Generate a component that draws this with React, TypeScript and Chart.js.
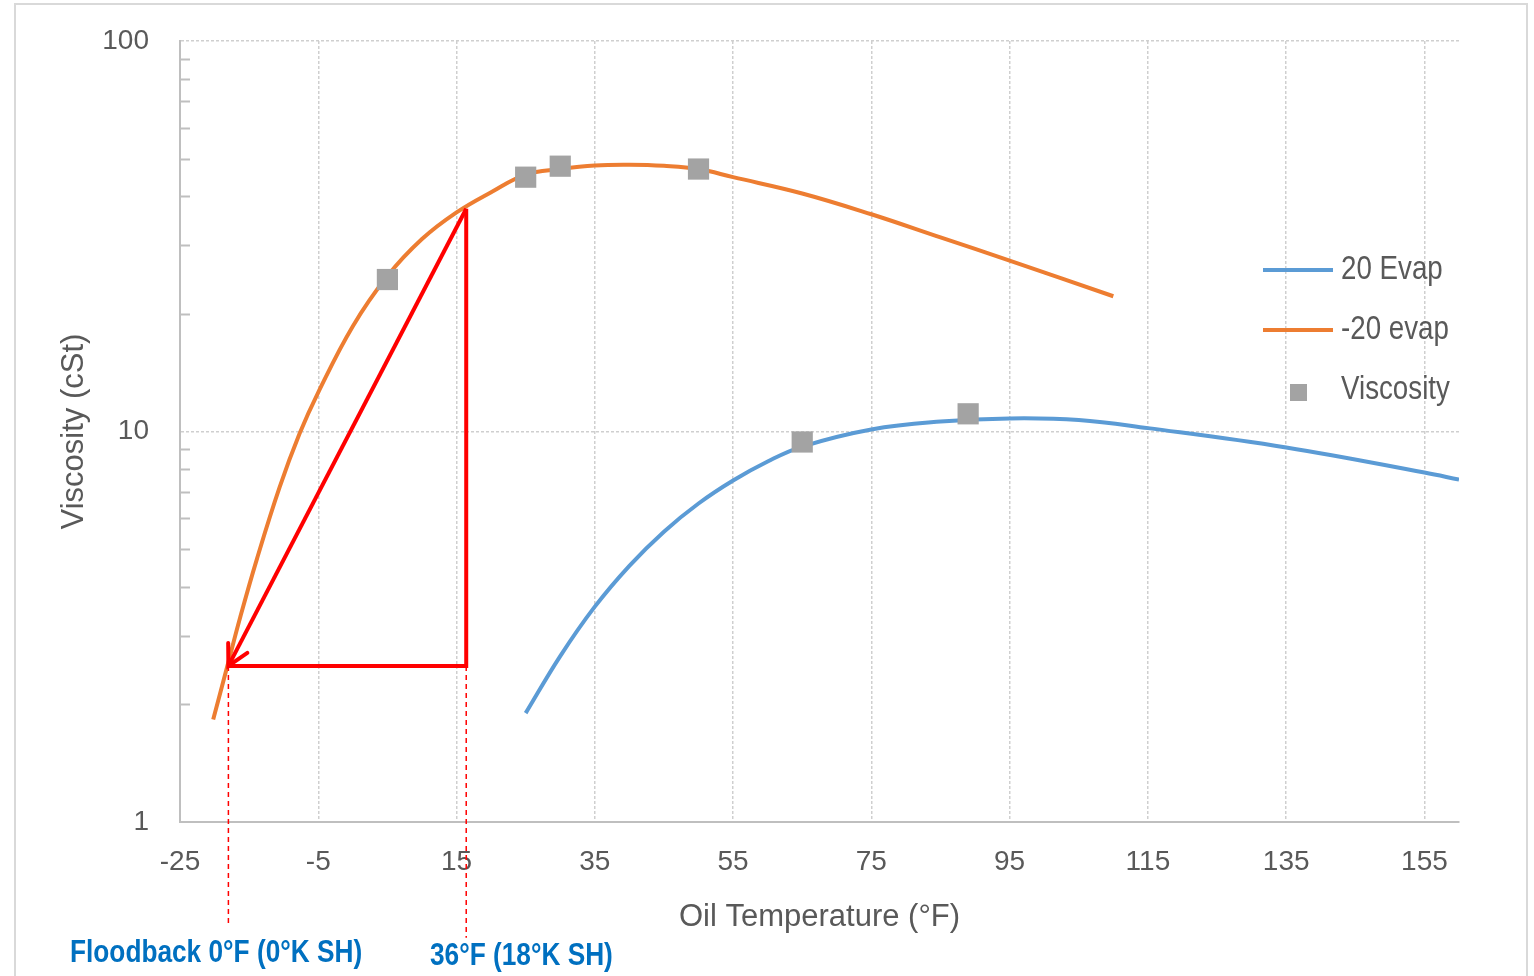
import React, { useEffect, useRef } from 'react';
import { Chart, registerables } from 'chart.js';

Chart.register(...registerables);

// ---- data ----
const evap20X = [25, 30, 35, 40, 45, 50, 55, 60, 65, 75, 85, 95, 105, 115, 135, 155, 160];
const evap20Y = [1.9, 2.66, 3.56, 4.53, 5.54, 6.54, 7.49, 8.38, 9.15, 10.12, 10.6, 10.8, 10.7, 10.2, 9.1, 7.85, 7.53];

const evapM20X = [-20.2, -18.2, -16.3, -13.9, -10.6, -7.7, -5, 0, 5, 10, 15, 20, 25, 30, 35, 40, 45, 50, 55, 65, 75, 85, 95, 110];
const evapM20Y = [1.83, 2.49, 3.34, 4.7, 7.19, 9.88, 12.6, 18.6, 25.0, 31.1, 36.4, 41.0, 45.5, 47, 48, 48.2, 47.9, 47, 44.8, 40.7, 36, 31.4, 27.4, 22.2];

const viscX = [5, 25, 30, 50, 65, 89];
const viscY = [24.5, 44.8, 47.8, 47, 9.4, 11.1];

const xTicks = [-25, -5, 15, 35, 55, 75, 95, 115, 135, 155];
const yTicks = [1, 10, 100];
const yMinorTicks = [2, 3, 4, 5, 6, 7, 8, 9, 20, 30, 40, 50, 60, 70, 80, 90];

const seriesNames = ['20 Evap', '-20 evap', 'Viscosity'];
const seriesColors = ['#5B9BD5', '#ED7D31', '#A3A3A3'];

// annotation (red triangle) in data coordinates: apex, corner, floodback point
const annotX = [16.4, 16.4, -18];
const annotY = [37.2, 2.51, 2.51];
const dashBottomY = [0.55, 0.505]; // dashed drop lines end (floodback x, apex x)
const annotLabels = ['Floodback 0°F (0°K SH)', '36°F (18°K SH)'];

const xTitle = 'Oil Temperature (°F)';
const yTitle = 'Viscosity (cSt)';

const baseFont = '"Liberation Sans", Arial, sans-serif';
const AREA = { left: 180, top: 41, right: 1459, bottom: 822 };

function narrowText(ctx: any, text: string, x: number, y: number, squeeze: number) {
  ctx.save();
  ctx.translate(x, y);
  ctx.scale(squeeze, 1);
  ctx.fillText(text, 0, 0);
  ctx.restore();
}

const decorPlugin = {
  id: 'decor',
  beforeDraw(chart: any) {
    const ctx = chart.ctx;
    ctx.save();
    ctx.strokeStyle = '#d9d9d9';
    ctx.lineWidth = 2;
    ctx.strokeRect(15, 4, 1512, 1100);
    ctx.restore();
  },
  afterDraw(chart: any) {
    const ctx = chart.ctx;
    const xs = chart.scales.x;
    const ys = chart.scales.y;
    ctx.save();
    // minor ticks on the log axis (inside the plot)
    ctx.strokeStyle = '#bfbfbf';
    ctx.lineWidth = 2;
    yMinorTicks.forEach((v) => {
      const py = Math.round(ys.getPixelForValue(v)) + 0.5;
      ctx.beginPath();
      ctx.moveTo(xs.left, py);
      ctx.lineTo(xs.left + 10, py);
      ctx.stroke();
    });

    const apexPx = xs.getPixelForValue(annotX[0]);
    const apexPy = ys.getPixelForValue(annotY[0]);
    const cornerPx = xs.getPixelForValue(annotX[1]);
    const cornerPy = ys.getPixelForValue(annotY[1]);
    const tipPx = xs.getPixelForValue(annotX[2]);
    const tipPy = ys.getPixelForValue(annotY[2]);

    // red dashed drop lines
    ctx.strokeStyle = '#ff0000';
    ctx.lineWidth = 1.5;
    ctx.setLineDash([5, 4]);
    ctx.beginPath();
    ctx.moveTo(tipPx, tipPy);
    ctx.lineTo(tipPx, ys.getPixelForValue(dashBottomY[0]));
    ctx.moveTo(cornerPx, cornerPy);
    ctx.lineTo(cornerPx, ys.getPixelForValue(dashBottomY[1]));
    ctx.stroke();
    ctx.setLineDash([]);

    // red triangle and arrow
    ctx.lineWidth = 4;
    ctx.lineJoin = 'miter';
    ctx.lineCap = 'butt';
    ctx.beginPath();
    ctx.moveTo(apexPx, apexPy);
    ctx.lineTo(cornerPx, cornerPy);
    ctx.lineTo(tipPx, tipPy);
    ctx.stroke();
    ctx.beginPath();
    ctx.moveTo(apexPx, apexPy);
    ctx.lineTo(tipPx, tipPy);
    ctx.stroke();
    const ang = Math.atan2(apexPy - tipPy, apexPx - tipPx);
    const headLen = 23;
    const spread = (28 * Math.PI) / 180;
    ctx.lineCap = 'round';
    ctx.beginPath();
    ctx.moveTo(tipPx + headLen * Math.cos(ang - spread), tipPy + headLen * Math.sin(ang - spread));
    ctx.lineTo(tipPx, tipPy);
    ctx.lineTo(tipPx + headLen * Math.cos(ang + spread), tipPy + headLen * Math.sin(ang + spread));
    ctx.stroke();

    // annotation labels (narrow bold)
    ctx.fillStyle = '#0070C0';
    ctx.font = 'bold 32px ' + baseFont;
    ctx.textBaseline = 'middle';
    ctx.textAlign = 'left';
    narrowText(ctx, annotLabels[0], 70, 953, 0.82);
    narrowText(ctx, annotLabels[1], 430, 956, 0.82);

    // legend
    ctx.lineCap = 'butt';
    ctx.lineWidth = 4;
    const legY = [270, 330, 390];
    [0, 1].forEach((i) => {
      ctx.strokeStyle = seriesColors[i];
      ctx.beginPath();
      ctx.moveTo(1263, legY[i]);
      ctx.lineTo(1333, legY[i]);
      ctx.stroke();
    });
    ctx.fillStyle = seriesColors[2];
    ctx.fillRect(1290, 384, 17, 17);
    ctx.fillStyle = '#595959';
    ctx.font = '33px ' + baseFont;
    seriesNames.forEach((n, i) => narrowText(ctx, n, 1341, legY[i], 0.84));
    ctx.restore();
  },
};

export default function App() {
  const ref = useRef<HTMLCanvasElement | null>(null);
  useEffect(() => {
    if (!ref.current) return;
    const chart = new Chart(ref.current, {
      type: 'line',
      data: {
        datasets: [
          {
            type: 'scatter',
            label: seriesNames[2],
            data: viscX.map((x, i) => ({ x, y: viscY[i] })),
            pointStyle: 'rect',
            pointRadius: 15,
            pointBackgroundColor: seriesColors[2],
            pointBorderWidth: 0,
            showLine: false,
            order: 0,
          },
          {
            label: seriesNames[0],
            data: evap20X.map((x, i) => ({ x, y: evap20Y[i] })),
            borderColor: seriesColors[0],
            borderWidth: 4,
            pointRadius: 0,
            tension: 0.4,
            fill: false,
            order: 1,
          },
          {
            label: seriesNames[1],
            data: evapM20X.map((x, i) => ({ x, y: evapM20Y[i] })),
            borderColor: seriesColors[1],
            borderWidth: 4,
            pointRadius: 0,
            tension: 0.4,
            fill: false,
            order: 2,
          },
        ],
      },
      options: {
        animation: false,
        responsive: true,
        maintainAspectRatio: false,
        layout: { autoPadding: false, padding: { top: AREA.top, right: 1534 - AREA.right, left: 0, bottom: 0 } },
        plugins: { legend: { display: false }, tooltip: { enabled: false } },
        scales: {
          x: {
            type: 'linear',
            min: -25,
            max: 160,
            afterBuildTicks: (s: any) => {
              s.ticks = xTicks.map((v) => ({ value: v }));
            },
            afterFit: (s: any) => {
              s.height = 976 - AREA.bottom;
            },
            ticks: {
              autoSkip: false,
              maxRotation: 0,
              padding: 23,
              color: '#595959',
              font: { family: baseFont, size: 28 },
              callback: (v: any) => String(v),
            },
            grid: { color: '#cfcfcf', lineWidth: 1.5, drawTicks: false },
            border: { color: '#bfbfbf', width: 2, dash: [3, 2] },
            title: {
              display: true,
              text: xTitle,
              color: '#595959',
              font: { family: baseFont, size: 31 },
              padding: { top: 0, bottom: 40 },
            },
          },
          y: {
            type: 'logarithmic',
            min: 1,
            max: 100,
            afterBuildTicks: (s: any) => {
              s.ticks = yTicks.map((v) => ({ value: v }));
            },
            afterFit: (s: any) => {
              s.width = AREA.left;
              s.paddingTop = 0;
              s.paddingBottom = 0;
            },
            ticks: {
              padding: 31,
              color: '#595959',
              font: { family: baseFont, size: 28 },
              callback: (v: any) => String(v),
            },
            grid: { color: '#cfcfcf', lineWidth: 1.5, drawTicks: false },
            border: { color: '#bfbfbf', width: 2, dash: [3, 2] },
            title: {
              display: true,
              text: yTitle,
              color: '#595959',
              font: { family: baseFont, size: 31 },
              padding: { top: 56, bottom: 0 },
            },
          },
        },
      },
      plugins: [decorPlugin],
    } as any);
    return () => chart.destroy();
  }, []);
  return (
    <div style={{ position: 'absolute', left: 0, top: 0, width: 1534, height: 976, background: '#fff' }}>
      <canvas ref={ref} />
    </div>
  );
}
